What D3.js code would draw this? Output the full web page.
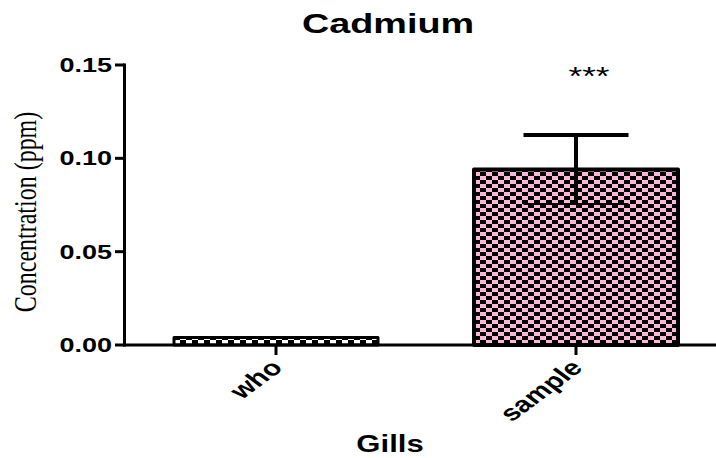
<!DOCTYPE html>
<html>
<head>
<meta charset="utf-8">
<script src="https://cdn.jsdelivr.net/npm/d3@7"></script>
<style>
  html, body { margin: 0; padding: 0; background: #fff; }
  svg { display: block; }
</style>
</head>
<body>
<div id="chart"></div>
<script>
// data
const groups = ["who", "sample"];
const means = [0.004, 0.094];
const sems = [0, 0.0185];
const signif = ["", "***"];
const yTicks = [0, 0.05, 0.10, 0.15];

const width = 716, height = 458;
const stretch = 1.35; // the source image is squeezed wider than tall

const svg = d3.select("#chart").append("svg")
  .attr("width", width)
  .attr("height", height);

const x = d3.scaleBand()
  .domain(groups)
  .range([126, 726])
  .paddingInner(0.32)
  .paddingOuter(0.16);

const y = d3.scaleLinear()
  .domain([0, 0.15])
  .range([345, 65]);

// checker fills
const defs = svg.append("defs");
function checker(id, light) {
  const p = defs.append("pattern")
    .attr("id", id)
    .attr("patternUnits", "userSpaceOnUse")
    .attr("width", 12).attr("height", 8);
  p.append("rect").attr("width", 12).attr("height", 8).attr("fill", "#000");
  p.append("rect").attr("x", 0).attr("y", 0).attr("width", 6).attr("height", 4).attr("fill", light);
  p.append("rect").attr("x", 6).attr("y", 4).attr("width", 6).attr("height", 4).attr("fill", light);
}
checker("chk-who", "#ffffff");
checker("chk-sample", "#fbb6d8");
const fills = ["url(#chk-who)", "url(#chk-sample)"];

// bars
svg.selectAll("rect.bar")
  .data(groups)
  .join("rect")
  .attr("class", "bar")
  .attr("x", d => x(d))
  .attr("y", (d, i) => y(means[i]))
  .attr("width", x.bandwidth())
  .attr("height", (d, i) => y(0) - y(means[i]))
  .attr("fill", (d, i) => fills[i])
  .attr("stroke", "#000")
  .attr("stroke-width", (d, i) => i === 0 ? 3 : 4)
  .attr("stroke-linejoin", "round");

// error bars
const capW = 105;
groups.forEach((g, i) => {
  if (!sems[i]) return;
  const cx = x(g) + x.bandwidth() / 2;
  const top = y(means[i] + sems[i]);
  const bot = y(means[i] - sems[i]);
  svg.append("line")
    .attr("x1", cx).attr("x2", cx)
    .attr("y1", top).attr("y2", bot)
    .attr("stroke", "#000").attr("stroke-width", 4);
  svg.append("line")
    .attr("x1", cx - capW / 2).attr("x2", cx + capW / 2)
    .attr("y1", top).attr("y2", top)
    .attr("stroke", "#000").attr("stroke-width", 4);
  svg.append("line")
    .attr("x1", cx - capW / 2).attr("x2", cx + capW / 2)
    .attr("y1", bot).attr("y2", bot)
    .attr("stroke", "#000").attr("stroke-width", 2);
});

// axes
svg.append("line")
  .attr("x1", 124.5).attr("x2", 124.5)
  .attr("y1", y(0.15) - 1.5).attr("y2", y(0) + 1.5)
  .attr("stroke", "#000").attr("stroke-width", 3);
svg.append("line")
  .attr("x1", 123).attr("x2", width)
  .attr("y1", y(0)).attr("y2", y(0))
  .attr("stroke", "#000").attr("stroke-width", 3);

// y ticks + labels
yTicks.forEach(t => {
  svg.append("line")
    .attr("x1", 115).attr("x2", 124.5)
    .attr("y1", y(t)).attr("y2", y(t))
    .attr("stroke", "#000").attr("stroke-width", 3);
  svg.append("text")
    .attr("transform", `translate(112,${y(t) + 7}) scale(${stretch},1)`)
    .attr("text-anchor", "end")
    .style("font-family", "Arial, 'Liberation Sans', sans-serif")
    .style("font-weight", "bold")
    .style("font-size", "20px")
    .text(d3.format(".2f")(t));
});

// x ticks + rotated labels
groups.forEach(g => {
  const cx = x(g) + x.bandwidth() / 2;
  svg.append("line")
    .attr("x1", cx).attr("x2", cx)
    .attr("y1", y(0)).attr("y2", y(0) + 10)
    .attr("stroke", "#000").attr("stroke-width", 3);
  svg.append("text")
    .attr("transform", `translate(${cx + 8},${y(0) + 24}) scale(${stretch},1) rotate(-45)`)
    .attr("text-anchor", "end")
    .style("font-family", "Arial, 'Liberation Sans', sans-serif")
    .style("font-weight", "bold")
    .style("font-size", "22px")
    .text(g);
});

// significance stars
groups.forEach((g, i) => {
  if (!signif[i]) return;
  svg.append("text")
    .attr("transform", `translate(${x(g) + x.bandwidth() / 2 + 13},${y(0.15) + 20}) scale(${stretch},1)`)
    .attr("text-anchor", "middle")
    .style("font-family", "Arial, 'Liberation Sans', sans-serif")
    .style("font-size", "26px")
    .text(signif[i]);
});

// title
svg.append("text")
  .attr("transform", `translate(388,33) scale(${stretch},1)`)
  .attr("text-anchor", "middle")
  .style("font-family", "Arial, 'Liberation Sans', sans-serif")
  .style("font-weight", "bold")
  .style("font-size", "28px")
  .text("Cadmium");

// x axis title
svg.append("text")
  .attr("transform", `translate(390,452) scale(${stretch},1)`)
  .attr("text-anchor", "middle")
  .style("font-family", "Arial, 'Liberation Sans', sans-serif")
  .style("font-weight", "bold")
  .style("font-size", "23px")
  .text("Gills");

// y axis title
svg.append("text")
  .attr("transform", `translate(36,212) scale(${stretch},1) rotate(-90)`)
  .attr("text-anchor", "middle")
  .style("font-family", "'Times New Roman', 'Liberation Serif', serif")
  .style("font-size", "24px")
  .text("Concentration (ppm)");
</script>
</body>
</html>
